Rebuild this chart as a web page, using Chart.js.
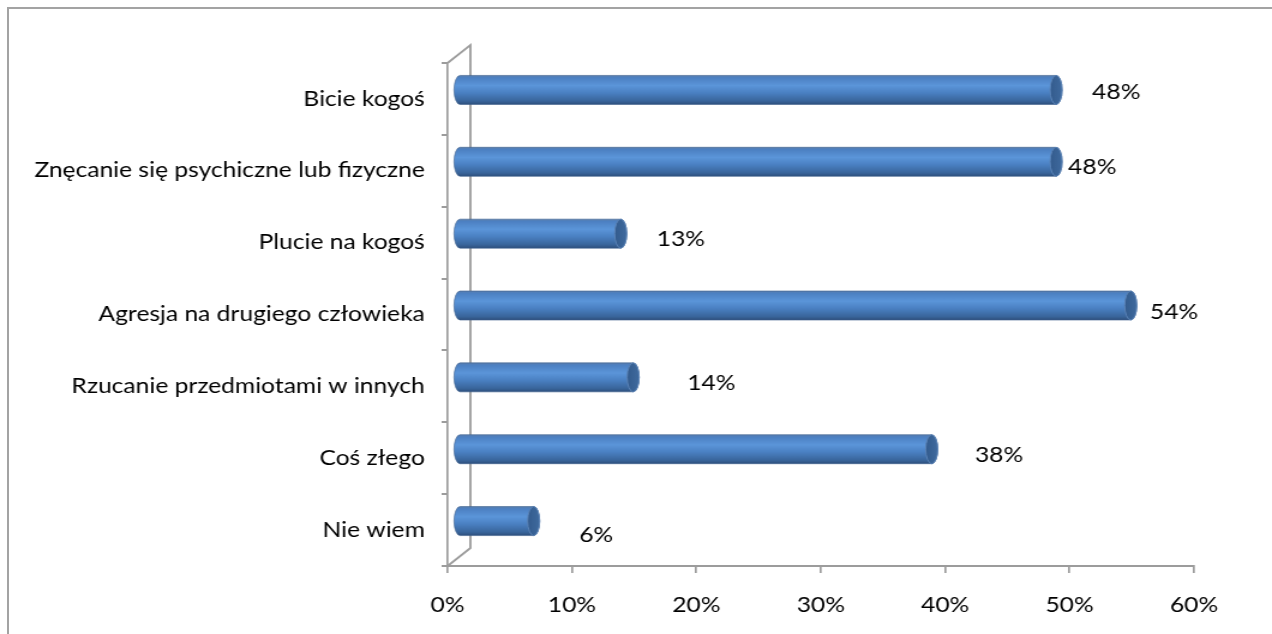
<!DOCTYPE html>
<html>
<head>
<meta charset="utf-8">
<script src="https://cdn.jsdelivr.net/npm/chart.js@4"></script>
<style>
  html, body { margin: 0; padding: 0; background: #fff; }
  body { width: 1272px; height: 634px; overflow: hidden; position: relative; }
  #frame {
    position: absolute; left: 7px; top: 7px; width: 1300px; height: 700px;
    border-left: 2px solid #a3a3a3; border-top: 2px solid #a3a3a3;
  }
  /* the original picture is stretched sideways, so is this one */
  #wrap {
    position: absolute; left: 0; top: 0; width: 1060px; height: 634px;
    transform: scaleX(1.2); transform-origin: 0 0;
  }
</style>
</head>
<body>
<div id="frame"></div>
<div id="wrap"><canvas id="chart"></canvas></div>
<script>
const categories = [
  "Bicie kogoś",
  "Znęcanie się psychiczne lub fizyczne",
  "Plucie na kogoś",
  "Agresja na drugiego człowieka",
  "Rzucanie przedmiotami w innych",
  "Coś złego",
  "Nie wiem"
];
const values = [48, 48, 13, 54, 14, 38, 6];
const valueLabels = ["48%", "48%", "13%", "54%", "14%", "38%", "6%"];
const tickValues = [0, 10, 20, 30, 40, 50, 60];

// label placement as Excel put them (px from bar cap, px from category center)
const labelNudge = [[25, -7], [5, -3], [25, -3], [11, -2], [40, -3], [31, -3], [33, 5]];

const FONT = "Lato, 'Open Sans', sans-serif";
const FONT_SIZE = 20.5;
const AXIS = "#9c9c9c";
const DEPTH_X = 19, DEPTH_Y = 18;   // 3d wall depth
const CAP = 5;                       // half width of the end ellipse

// back wall and floor edge of the 3d plot
const wall = {
  id: "wall",
  beforeDatasetsDraw(chart) {
    const { ctx, chartArea: a } = chart;
    ctx.save();
    ctx.strokeStyle = AXIS;
    ctx.lineWidth = 1.8;
    ctx.beginPath();
    ctx.moveTo(a.left, a.top);
    ctx.lineTo(a.left + DEPTH_X, a.top - DEPTH_Y);
    ctx.lineTo(a.left + DEPTH_X, a.bottom - DEPTH_Y);
    ctx.lineTo(a.left, a.bottom);
    ctx.stroke();
    ctx.restore();
  }
};

const cylinders = {
  id: "cylinders",
  afterDatasetsDraw(chart) {
    const { ctx } = chart;
    const meta = chart.getDatasetMeta(0);
    const sx = DEPTH_X / 2, sy = -DEPTH_Y / 2;
    ctx.save();
    meta.data.forEach((bar, i) => {
      const h = bar.height;
      const cy = bar.y + sy;
      const top = cy - h / 2;
      const x0 = bar.base + sx;
      const x1 = bar.x + sx;
      const g = ctx.createLinearGradient(0, top, 0, top + h);
      g.addColorStop(0, "#5a7fae");
      g.addColorStop(0.08, "#4c80c2");
      g.addColorStop(0.35, "#5b95d9");
      g.addColorStop(0.6, "#4a80c2");
      g.addColorStop(0.88, "#39659b");
      g.addColorStop(1, "#2e4f7c");
      ctx.beginPath();
      ctx.ellipse(x0, cy, CAP, h / 2, 0, Math.PI / 2, Math.PI * 1.5);
      ctx.lineTo(x1, top);
      ctx.ellipse(x1, cy, CAP, h / 2, 0, -Math.PI / 2, Math.PI / 2);
      ctx.closePath();
      ctx.fillStyle = g;
      ctx.fill();
      ctx.strokeStyle = "rgba(60,95,140,0.6)";
      ctx.lineWidth = 1;
      ctx.stroke();
      // end cap
      const cg = ctx.createLinearGradient(x1 - CAP, 0, x1 + CAP, 0);
      cg.addColorStop(0, "#335b8d");
      cg.addColorStop(1, "#3f6a9e");
      ctx.beginPath();
      ctx.ellipse(x1, cy, CAP, h / 2, 0, 0, Math.PI * 2);
      ctx.fillStyle = cg;
      ctx.fill();
      ctx.strokeStyle = "#5a82b5";
      ctx.stroke();

      // value label
      const [dx, dy] = labelNudge[i];
      ctx.fillStyle = "#000";
      ctx.font = FONT_SIZE + "px " + FONT;
      ctx.textAlign = "left";
      ctx.textBaseline = "middle";
      ctx.fillText(valueLabels[i], x1 + CAP + dx, bar.y + dy);
    });
    ctx.restore();
  }
};

new Chart(document.getElementById("chart"), {
  type: "bar",
  data: {
    labels: categories,
    datasets: [{
      data: values,
      backgroundColor: "rgba(0,0,0,0)",
      borderWidth: 0,
      barThickness: 29
    }]
  },
  options: {
    indexAxis: "y",
    responsive: true,
    maintainAspectRatio: false,
    animation: false,
    layout: { padding: { left: 0, right: 65, top: 63, bottom: 0 } },
    plugins: {
      legend: { display: false },
      tooltip: { enabled: false }
    },
    scales: {
      x: {
        min: 0,
        max: 60,
        afterFit(scale) { scale.height = 68; },
        afterBuildTicks(scale) { scale.ticks = tickValues.map(v => ({ value: v })); },
        border: { display: true, color: AXIS, width: 2 },
        grid: { display: true, drawOnChartArea: false, drawTicks: true, tickLength: 7, color: AXIS, lineWidth: 1.7 },
        ticks: {
          color: "#000",
          font: { family: FONT, size: FONT_SIZE },
          padding: 20,
          maxRotation: 0,
          callback: v => v + "%"
        }
      },
      y: {
        afterFit(scale) { scale.width = 373; },
        border: { display: true, color: AXIS, width: 1.7 },
        grid: { display: true, offset: true, drawOnChartArea: false, drawTicks: true, tickLength: 5, color: AXIS, lineWidth: 2 },
        ticks: {
          color: "#000",
          font: { family: FONT, size: FONT_SIZE },
          padding: 14,
          crossAlign: "near"
        }
      }
    }
  },
  plugins: [wall, cylinders]
});
</script>
</body>
</html>
